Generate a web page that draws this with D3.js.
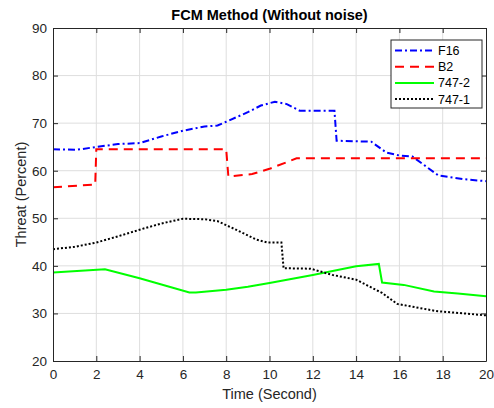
<!DOCTYPE html>
<html>
<head>
<meta charset="utf-8">
<script src="https://cdn.jsdelivr.net/npm/d3@7"></script>
<style>
  body { margin: 0; background: #fff; }
  text { font-family: "Liberation Sans", Arial, sans-serif; }
</style>
</head>
<body>
<script>
// series: [time, threat]
const f16 = [[0,64.5],[1.1,64.4],[2,65.0],[3,65.6],[4,65.8],[5,67.2],[6,68.4],[7,69.3],[7.6,69.5],[8,70.3],[9,72.3],[9.6,73.7],[10.25,74.5],[10.8,74.0],[11.4,72.6],[13.0,72.6],[13.1,66.3],[14.7,66.1],[15.4,63.8],[16,63.2],[16.6,63.0],[17.8,59.0],[19,58.2],[20,57.8]];
const b2 = [[0,56.5],[1.95,57.1],[2.0,64.5],[8.0,64.5],[8.1,58.8],[9.2,59.3],[10,60.4],[11.25,62.6],[20,62.6]];
const b7472 = [[0,38.6],[2.4,39.3],[4,37.4],[6.3,34.4],[6.6,34.4],[8,35.0],[9,35.6],[10,36.4],[12,38.1],[14,39.9],[15.05,40.4],[15.2,36.5],[16.2,36.0],[17.6,34.6],[18.7,34.2],[20,33.6]];
const b7471 = [[0,43.5],[1,44.0],[2,44.9],[3,46.2],[4,47.6],[5,48.9],[6,49.9],[7,49.8],[7.6,49.4],[8.5,47.5],[9.4,45.5],[9.9,44.9],[10.55,44.9],[10.65,39.5],[11.9,39.4],[12.9,38.1],[14,37.1],[15.2,34.3],[15.9,32.0],[16.5,31.5],[17.7,30.5],[20,29.6]];

const xTicks = [0,2,4,6,8,10,12,14,16,18,20];
const yTicks = [20,30,40,50,60,70,80,90];
const seriesNames = ["F16","B2","747-2","747-1"];

const width = 494, height = 408;
const margin = {top: 28, right: 8, bottom: 47, left: 53};
const axisColor = "#262626";

const series = [
  {name: seriesNames[0], data: f16,   color: "#0000ff", dash: "7,3,2,3"},
  {name: seriesNames[1], data: b2,    color: "#ff0000", dash: "9,6"},
  {name: seriesNames[2], data: b7472, color: "#00ff00", dash: null},
  {name: seriesNames[3], data: b7471, color: "#000000", dash: "2,2"}
];

const svg = d3.select("body").append("svg")
  .attr("width", width)
  .attr("height", height);

const x = d3.scaleLinear().domain([0, 20]).range([margin.left, width - margin.right]);
const y = d3.scaleLinear().domain([20, 90]).range([height - margin.bottom, margin.top]);

// grid
svg.append("g").selectAll("line.gx")
  .data(xTicks.slice(1, -1)).enter().append("line")
  .attr("x1", d => x(d)).attr("x2", d => x(d))
  .attr("y1", y(20)).attr("y2", y(90))
  .attr("stroke", "#dedede").attr("stroke-width", 1);
svg.append("g").selectAll("line.gy")
  .data(yTicks.slice(1, -1)).enter().append("line")
  .attr("x1", x(0)).attr("x2", x(20))
  .attr("y1", d => y(d)).attr("y2", d => y(d))
  .attr("stroke", "#dedede").attr("stroke-width", 1);

// lines
const line = d3.line().x(d => x(d[0])).y(d => y(d[1]));
svg.append("g").selectAll("path")
  .data(series).enter().append("path")
  .attr("d", d => line(d.data))
  .attr("fill", "none")
  .attr("stroke", d => d.color)
  .attr("stroke-width", 2)
  .attr("stroke-dasharray", d => d.dash);

// axes, ticks inward, boxed
const xAxis = svg.append("g")
  .attr("transform", `translate(0,${y(20)})`)
  .call(d3.axisBottom(x).tickValues(xTicks).tickSizeInner(-5).tickSizeOuter(0).tickPadding(8));
const xTop = svg.append("g")
  .attr("transform", `translate(0,${y(90)})`)
  .call(d3.axisTop(x).tickValues(xTicks).tickSizeInner(-5).tickSizeOuter(0).tickFormat(""));
const yAxis = svg.append("g")
  .attr("transform", `translate(${x(0)},0)`)
  .call(d3.axisLeft(y).tickValues(yTicks).tickSizeInner(-5).tickSizeOuter(0).tickPadding(6));
const yRight = svg.append("g")
  .attr("transform", `translate(${x(20)},0)`)
  .call(d3.axisRight(y).tickValues(yTicks).tickSizeInner(-5).tickSizeOuter(0).tickFormat(""));

[xAxis, xTop, yAxis, yRight].forEach(g => {
  g.select(".domain").attr("stroke", axisColor);
  g.selectAll(".tick line").attr("stroke", axisColor);
  g.selectAll(".tick text").attr("fill", axisColor)
    .style("font-family", "'Liberation Sans', Arial, sans-serif")
    .style("font-size", "13.5px");
});

// titles
svg.append("text")
  .attr("x", (x(0) + x(20)) / 2).attr("y", 20)
  .attr("text-anchor", "middle")
  .style("font-size", "14.5px").style("font-weight", "bold")
  .attr("fill", "#000")
  .text("FCM Method (Without noise)");

svg.append("text")
  .attr("x", (x(0) + x(20)) / 2).attr("y", 399)
  .attr("text-anchor", "middle")
  .style("font-size", "14.5px")
  .attr("fill", axisColor)
  .text("Time (Second)");

svg.append("text")
  .attr("transform", `translate(26,${(y(20) + y(90)) / 2}) rotate(-90)`)
  .attr("text-anchor", "middle")
  .style("font-size", "14.5px")
  .attr("fill", axisColor)
  .text("Threat (Percent)");

// legend
const lg = svg.append("g").attr("transform", "translate(391,40)");
lg.append("rect")
  .attr("width", 91).attr("height", 68)
  .attr("fill", "#fff").attr("stroke", "#262626").attr("stroke-width", 1);
const rows = lg.selectAll("g.row").data(series).enter().append("g")
  .attr("transform", (d, i) => `translate(0,${10.5 + i * 16.2})`);
rows.append("line")
  .attr("x1", 4).attr("x2", 43).attr("y1", 0).attr("y2", 0)
  .attr("stroke", d => d.color).attr("stroke-width", 2)
  .attr("stroke-dasharray", d => d.dash);
rows.append("text")
  .attr("x", 47).attr("y", 4.5)
  .style("font-size", "12.5px")
  .attr("fill", "#000")
  .text(d => d.name);
</script>
</body>
</html>
